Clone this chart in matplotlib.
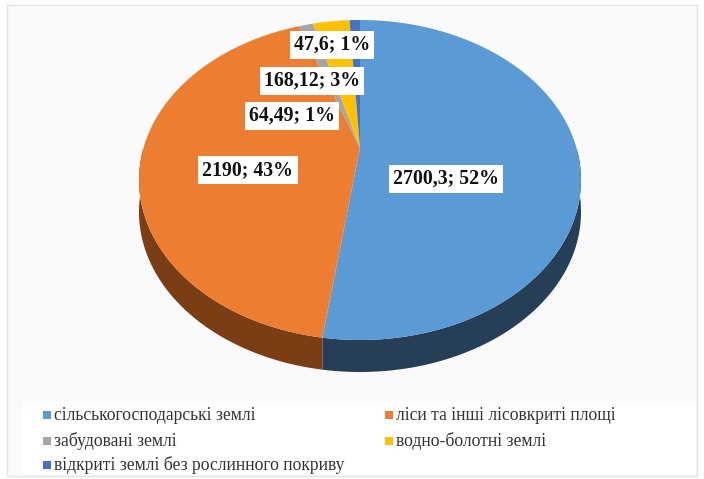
import numpy as np
import matplotlib
matplotlib.use("Agg")
import matplotlib.pyplot as plt
from matplotlib.patches import Rectangle, Polygon

categories = ["сільськогосподарські землі", "ліси та інші лісовкриті площі",
              "забудовані землі", "водно-болотні землі",
              "відкриті землі без рослинного покриву"]
values = [2700.3, 2190, 64.49, 168.12, 47.6]
labels = ["2700,3; 52%", "2190; 43%", "64,49; 1%", "168,12; 3%", "47,6; 1%"]
colors = ["#5b9bd5", "#ed7d31", "#a5a5a5", "#ffc000", "#4472c4"]
dark = ["#263f57", "#7a3d14", "#5a5a5a", "#8a6800", "#25406e"]

plt.rcParams["font.family"] = ["Liberation Serif", "DejaVu Serif"]

fig = plt.figure(figsize=(7.04, 4.79), dpi=100, facecolor="white")
ax = fig.add_axes([0, 0, 1, 1])
ax.set_xlim(0, 704)
ax.set_ylim(479, 0)
ax.axis("off")

# фон і рамка
ax.add_patch(Rectangle((7, 5), 690, 471, facecolor="#fafafa", edgecolor="#e4e4e4", lw=1))
ax.add_patch(Rectangle((22, 402), 674, 73, facecolor="white", edgecolor="none"))

cx, cy, rx, ry, depth = 360, 180, 221, 160, 32
persp = 0.2  # перспектива: центр кола зміщений вгору

angles = 90 - 360 * np.cumsum([0] + values) / sum(values)


def pt(a):
    k = 1 + persp * np.sin(a)
    x = np.sqrt(1 - persp ** 2) * np.cos(a) / k
    y = (persp + np.sin(a)) / k
    return cx + rx * x, cy - ry * y


# бокова стінка
for i in range(len(values)):
    t = np.linspace(np.radians(angles[i + 1]), np.radians(angles[i]), 200)
    t = t[np.sin(t) <= 0]
    if len(t) < 2:
        continue
    x, y = pt(t)
    xy = np.r_[np.c_[x, y], np.c_[x, y + depth][::-1]]
    ax.add_patch(Polygon(xy, facecolor=dark[i], edgecolor="none"))

# верх
pivot = (cx, cy - ry * persp)
for i in range(len(values)):
    t = np.linspace(np.radians(angles[i + 1]), np.radians(angles[i]), 200)
    x, y = pt(t)
    xy = np.r_[[pivot], np.c_[x, y]]
    ax.add_patch(Polygon(xy, facecolor=colors[i], edgecolor="none"))

# підписи
label_pos = [(446, 179), (248, 170), (292, 116), (312, 81), (332, 45)]
for (x, y), s in zip(label_pos, labels):
    ax.text(x, y, s, ha="center", va="center", fontsize=14.3, fontweight="bold", color="#111111",
            bbox=dict(facecolor="white", edgecolor="none", pad=3))

# легенда
legend_pos = [(43, 415), (385, 415), (43, 441), (385, 441), (43, 465)]
for i, (x, y) in enumerate(legend_pos):
    ax.add_patch(Rectangle((x, y - 4), 8, 8, facecolor=colors[i], edgecolor="none"))
    ax.text(x + 11, y, categories[i], ha="left", va="center", fontsize=12.7, color="#333333")

fig.savefig("out.png", dpi=100)
